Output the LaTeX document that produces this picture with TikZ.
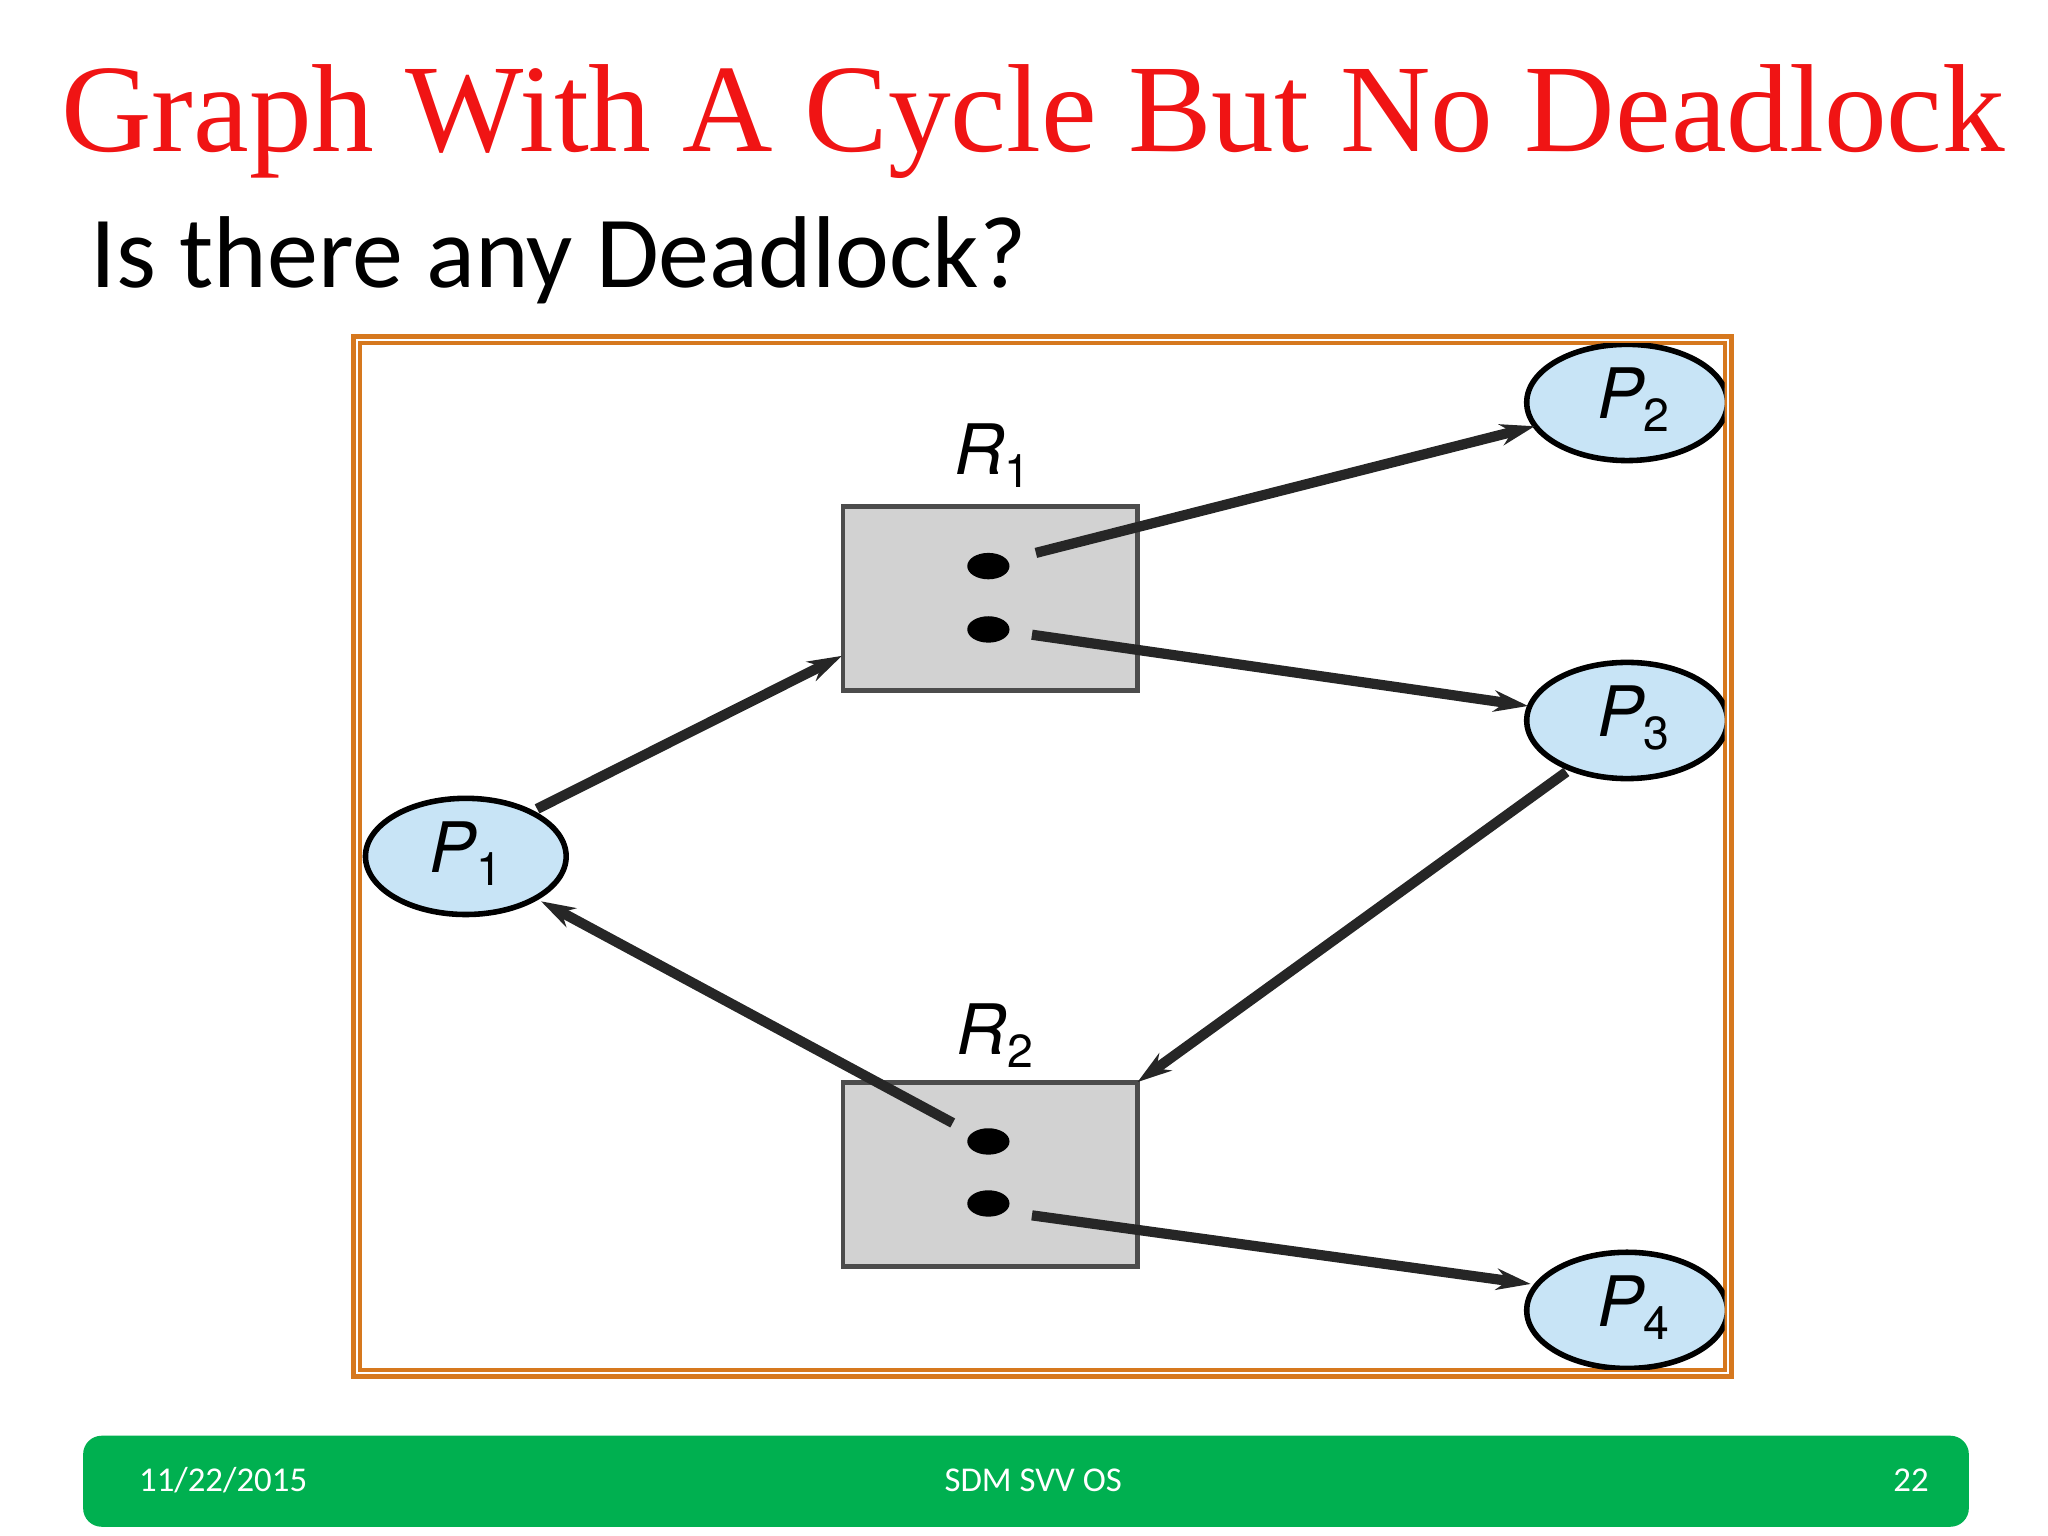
\documentclass[tikz,border=0pt]{standalone}
\usepackage{fontspec}
\setmainfont{Liberation Serif}
\newfontfamily\calib{Carlito}
\newfontfamily\heros{TeX Gyre Heros}
\usetikzlibrary{arrows.meta,shapes.geometric}
\definecolor{titlered}{RGB}{240,20,20}
\definecolor{frameor}{RGB}{214,120,30}
\definecolor{boxgray}{RGB}{210,210,210}
\definecolor{procblue}{RGB}{200,228,246}
\definecolor{footgreen}{RGB}{0,176,80}
\tikzset{
  proc/.style={ellipse,draw=black,line width=1.2pt,fill=procblue,minimum width=1.52cm,minimum height=0.88cm,inner sep=0pt},
  res/.style={draw=black!70,line width=1pt,fill=boxgray,minimum width=2.23cm,minimum height=1.39cm,inner sep=0pt},
  dot/.style={ellipse,fill=black,minimum width=0.32cm,minimum height=0.2cm,inner sep=0pt},
  edge/.style={-{Stealth[length=7.4pt,width=4.6pt]},line width=2.2pt,black!85},
  plab/.style={font=\heros\itshape\fontsize{15}{15}\selectfont},
  foot/.style={text=white,font=\calib\fontsize{7.5}{8}\selectfont}
}
\newcommand{\lab}[2]{#1\raisebox{-0.35ex}{\upshape\fontsize{10}{10}\selectfont #2}}
\begin{document}
\begin{tikzpicture}[x=0.01cm,y=-0.01cm]
\useasboundingbox (0,0) rectangle (1552,1164);
\node[text=titlered,font=\fontsize{27}{30}\selectfont] (title) at (783,92) {Graph With A Cycle But No Deadlock};
\node[anchor=base west,font=\calib\fontsize{22}{24}\selectfont,inner sep=0] (q) at (68,218) {Is there any Deadlock?};
\draw[frameor,line width=1.2pt] (268,255) rectangle (1312,1043);
\draw[frameor,line width=0.8pt] (273,260) rectangle (1307,1038);
\begin{scope}
\clip (273,260) rectangle (1307,1038);
\node[proc] (P1) at (353,649) {};
\node[proc] (P2) at (1233,305) {};
\node[proc] (P3) at (1233,546) {};
\node[proc] (P4) at (1233,993) {};
\end{scope}
\node[plab] (P1l) at (353,647) {\lab{P}{1}};
\node[plab] (P2l) at (1238,303) {\lab{P}{2}};
\node[plab] (P3l) at (1238,544) {\lab{P}{3}};
\node[plab] (P4l) at (1238,991) {\lab{P}{4}};
\node[res] (R1) at (750.5,453.5) {};
\node[res] (R2) at (750.5,890) {};
\node[plab] (R1l) at (752,345) {\lab{R}{1}};
\node[plab] (R2l) at (754,785) {\lab{R}{2}};
\node[dot] (d1) at (749,429) {};
\node[dot] (d2) at (749,477) {};
\node[dot] (d3) at (749,865) {};
\node[dot] (d4) at (749,912) {};
\coordinate (a1) at (785,419); \coordinate (b1) at (1163,323);
\coordinate (a2) at (782,481); \coordinate (b2) at (1158,535);
\coordinate (a3) at (407,613); \coordinate (b3) at (638,497);
\coordinate (a4) at (1187,585); \coordinate (b4) at (862,820);
\coordinate (a5) at (722,851); \coordinate (b5) at (410,683);
\coordinate (a6) at (782,921); \coordinate (b6) at (1160,973);
\draw[edge] (a1) -- (b1);
\draw[edge] (a2) -- (b2);
\draw[edge] (a3) -- (b3);
\draw[edge] (a4) -- (b4);
\draw[edge] (a5) -- (b5);
\draw[edge] (a6) -- (b6);
\fill[footgreen,rounded corners=0.14cm] (63,1088) rectangle (1492,1157);
\node[foot,anchor=west] (f1) at (93,1122) {11/22/2015};
\node[foot] (f2) at (783,1122) {SDM SVV OS};
\node[foot,anchor=east] (f3) at (1474,1122) {22};
\end{tikzpicture}
\end{document}
